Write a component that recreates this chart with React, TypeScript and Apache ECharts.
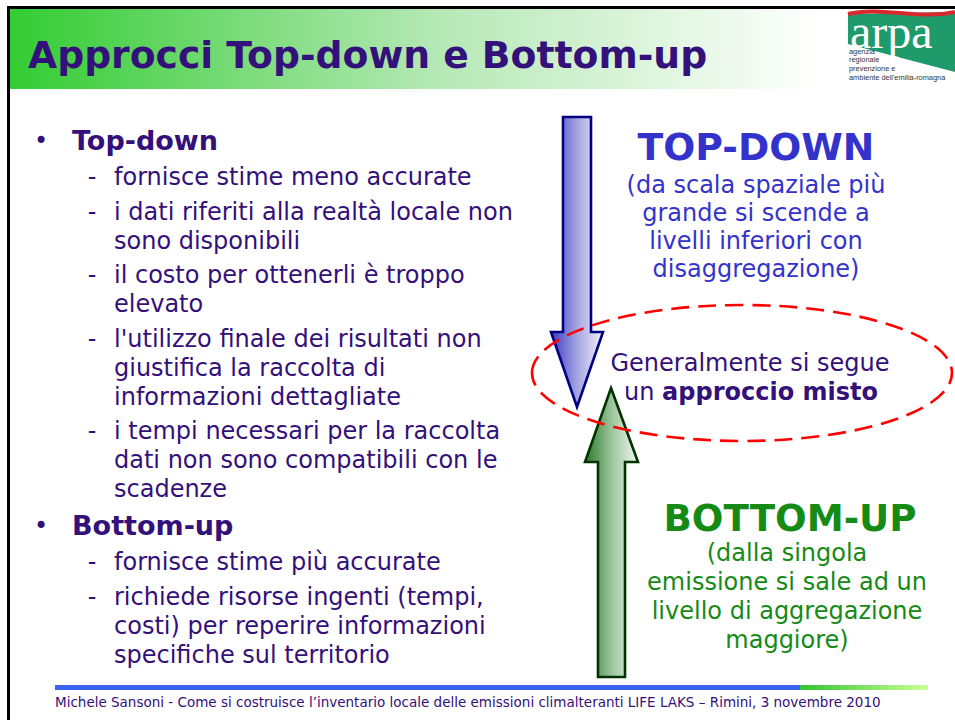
import React, { useEffect, useRef } from "react";
import * as echarts from "echarts";

const titleText = "Approcci Top-down e Bottom-up";
const topDownHeading = "Top-down";
const topDownItems: string[][] = [
  ["fornisce stime meno accurate"],
  ["i dati riferiti alla realtà locale non", "sono disponibili"],
  ["il costo per ottenerli è troppo", "elevato"],
  ["l'utilizzo finale dei risultati non", "giustifica la raccolta di", "informazioni dettagliate"],
  ["i tempi necessari per la raccolta", "dati non sono compatibili con le", "scadenze"],
];
const bottomUpHeading = "Bottom-up";
const bottomUpItems: string[][] = [
  ["fornisce stime più accurate"],
  ["richiede risorse ingenti (tempi,", "costi) per reperire informazioni", "specifiche sul territorio"],
];
const topDownBig = "TOP-DOWN";
const topDownNote = ["(da scala spaziale più", "grande si scende a", "livelli inferiori con", "disaggregazione)"];
const bottomUpBig = "BOTTOM-UP";
const bottomUpNote = ["(dalla singola", "emissione si sale ad un", "livello di aggregazione", "maggiore)"];
const mixLine1 = "Generalmente si segue";
const mixLine2a = "un ";
const mixLine2b = "approccio misto";
const logoWord = "arpa";
const logoLines = ["agenzia", "regionale", "prevenzione e", "ambiente dell'emilia-romagna"];
const footerText =
  "Michele Sansoni - Come si costruisce l’inventario locale delle emissioni climalteranti LIFE LAKS – Rimini, 3 novembre 2010";

const PURPLE = "#33107a";
const BLUE = "#3333cc";
const GREEN = "#158a15";
const FONT = "DejaVu Sans, Verdana, sans-serif";

function buildElements() {
  const els: any[] = [];
  // frame
  els.push({ type: "rect", shape: { x: 7, y: 6, width: 948, height: 3 }, style: { fill: "#000" } });
  els.push({ type: "rect", shape: { x: 7, y: 6, width: 3, height: 714 }, style: { fill: "#000" } });
  // header gradient
  els.push({
    type: "rect",
    shape: { x: 10, y: 9, width: 945, height: 80 },
    style: {
      fill: new echarts.graphic.LinearGradient(0, 0, 1, 0, [
        { offset: 0, color: "#33cc33" },
        { offset: 0.45, color: "#b5e8b5" },
        { offset: 0.86, color: "#ffffff" },
        { offset: 1, color: "#ffffff" },
      ]),
    },
  });
  els.push({
    type: "text",
    x: 28,
    y: 55,
    style: { text: titleText, font: `bold 37.7px ${FONT}`, fill: PURPLE, textAlign: "left", textVerticalAlign: "middle" },
  });
  // logo
  els.push({ type: "rect", shape: { x: 846, y: 9, width: 109, height: 80 }, style: { fill: "#fff" } });
  els.push({
    type: "polygon",
    shape: { points: [[848, 14], [955, 12], [955, 72], [848, 44]] },
    style: { fill: "#1f9a6a" },
  });
  els.push({
    type: "bezierCurve",
    shape: { x1: 848, y1: 14, x2: 955, y2: 12, cpx1: 880, cpy1: 6, cpx2: 920, cpy2: 20 },
    style: { stroke: "#d8282e", lineWidth: 4, fill: "none" },
  });
  els.push({
    type: "text",
    x: 850,
    y: 31,
    style: {
      text: logoWord,
      font: "48px Liberation Serif, serif",
      lineHeight: 22,
      fill: "#ffffff",
      textAlign: "left",
      textVerticalAlign: "middle",
    },
  });
  logoLines.forEach((t, i) => {
    els.push({
      type: "text",
      x: 849,
      y: 51 + i * 8.7,
      style: { text: t, font: "7.4px Liberation Sans, sans-serif", lineHeight: 7.5, fill: "#333", textAlign: "left", textVerticalAlign: "middle" },
    });
  });

  // left column
  const subFont = `24px ${FONT}`;
  const headFont = `bold 27px ${FONT}`;
  let y = 140;
  const lineH = 29;
  const itemGap = 34.5;
  const addHeading = (t: string) => {
    els.push({ type: "text", x: 41, y: y + 1, style: { text: "•", font: `24px ${FONT}`, fill: PURPLE, textAlign: "center", textVerticalAlign: "middle" } });
    els.push({ type: "text", x: 72, y, style: { text: t, font: headFont, fill: PURPLE, textAlign: "left", textVerticalAlign: "middle" } });
  };
  const addItems = (items: string[][]) => {
    items.forEach((lines, k) => {
      y += k === 0 ? 37 : itemGap;
      lines.forEach((ln, j) => {
        if (j > 0) y += lineH;
        if (j === 0)
          els.push({ type: "text", x: 92, y, style: { text: "-", font: subFont, fill: PURPLE, textAlign: "center", textVerticalAlign: "middle" } });
        els.push({ type: "text", x: 114, y, style: { text: ln, font: subFont, fill: PURPLE, textAlign: "left", textVerticalAlign: "middle" } });
      });
    });
  };
  addHeading(topDownHeading);
  addItems(topDownItems);
  y += 36;
  addHeading(bottomUpHeading);
  addItems(bottomUpItems);

  // arrows
  els.push({
    type: "polygon",
    shape: { points: [[563, 117], [591, 117], [591, 332], [603, 332], [577, 407], [551, 332], [563, 332]] },
    style: {
      fill: new echarts.graphic.LinearGradient(0, 0, 1, 0, [
        { offset: 0, color: "#3c3cc4" },
        { offset: 0.5, color: "#a4a4e2" },
        { offset: 1, color: "#f2f2fb" },
      ]),
      stroke: "#000080",
      lineWidth: 2.6,
      lineJoin: "miter",
    },
  });
  els.push({
    type: "polygon",
    shape: { points: [[611, 388], [638, 462], [625, 462], [625, 677], [598, 677], [598, 462], [585, 462]] },
    style: {
      fill: new echarts.graphic.LinearGradient(0, 0, 1, 0, [
        { offset: 0, color: "#2a7a2a" },
        { offset: 0.5, color: "#9cc49c" },
        { offset: 1, color: "#f2f7f2" },
      ]),
      stroke: "#003300",
      lineWidth: 2.6,
      lineJoin: "miter",
    },
  });
  // ellipse
  els.push({
    type: "ellipse",
    shape: { cx: 742, cy: 373, rx: 210, ry: 68 },
    style: { fill: "none", stroke: "#ff0000", lineWidth: 2.6, lineDash: [18, 9] },
    z: 10,
  });

  // right texts
  els.push({ type: "text", x: 756, y: 147, style: { text: topDownBig, font: `bold 37.7px ${FONT}`, fill: BLUE, textAlign: "center", textVerticalAlign: "middle" } });
  topDownNote.forEach((t, i) => {
    els.push({ type: "text", x: 756, y: 185 + i * 28, style: { text: t, font: subFont, fill: BLUE, textAlign: "center", textVerticalAlign: "middle" } });
  });
  els.push({ type: "text", x: 750, y: 363, style: { text: mixLine1, font: subFont, fill: PURPLE, textAlign: "center", textVerticalAlign: "middle" }, z: 11 });
  els.push({
    type: "text",
    x: 751,
    y: 392,
    z: 11,
    style: {
      text: `{n|${mixLine2a}}{b|${mixLine2b}}`,
      textAlign: "center",
      textVerticalAlign: "middle",
      rich: {
        n: { font: subFont, fill: PURPLE },
        b: { font: `bold 24px ${FONT}`, fill: PURPLE },
      },
    },
  });
  els.push({ type: "text", x: 790, y: 518, style: { text: bottomUpBig, font: `bold 37.2px ${FONT}`, fill: GREEN, textAlign: "center", textVerticalAlign: "middle" } });
  bottomUpNote.forEach((t, i) => {
    els.push({ type: "text", x: 787, y: 553 + i * 29, style: { text: t, font: subFont, fill: GREEN, textAlign: "center", textVerticalAlign: "middle" } });
  });

  // footer
  els.push({ type: "rect", shape: { x: 55, y: 685, width: 745, height: 5 }, style: { fill: "#3a63f2" } });
  els.push({
    type: "rect",
    shape: { x: 800, y: 685, width: 128, height: 5 },
    style: {
      fill: new echarts.graphic.LinearGradient(0, 0, 1, 0, [
        { offset: 0, color: "#33c433" },
        { offset: 1, color: "#ccff99" },
      ]),
    },
  });
  els.push({ type: "text", x: 55, y: 702, style: { text: footerText, font: `13.5px ${FONT}`, fill: PURPLE, textAlign: "left", textVerticalAlign: "middle" } });
  return els;
}

export default function App() {
  const ref = useRef<HTMLDivElement>(null);
  useEffect(() => {
    document.body.style.margin = "0";
    const chart = echarts.init(ref.current!, undefined, { renderer: "svg" });
    chart.setOption({
      animation: false,
      backgroundColor: "#ffffff",
      graphic: { elements: buildElements() },
    });
    return () => chart.dispose();
  }, []);
  return <div ref={ref} style={{ width: 955, height: 720, position: "absolute", left: 0, top: 0 }} />;
}
